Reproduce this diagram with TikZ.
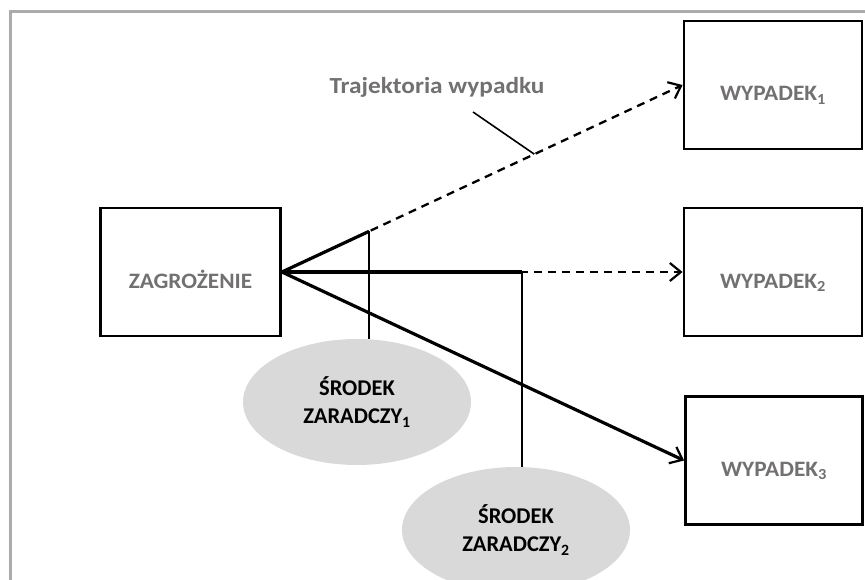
\documentclass[tikz,border=0pt]{standalone}
\usepackage{fontspec}
\setmainfont{Carlito}
\newfontfamily\widefont{Carlito}[FakeStretch=1.06]
\newfontfamily\labelfont{Carlito}[FakeStretch=1.1]
\usetikzlibrary{arrows.meta,shapes.geometric,calc}
\definecolor{txtgray}{HTML}{727070}
\definecolor{ellgray}{HTML}{D9D9D9}
\definecolor{framegray}{HTML}{ABABAB}
\begin{document}
\begin{tikzpicture}[x=1pt,y=-1pt,
  box/.style={draw,line width=2.8pt,inner sep=0pt,minimum width=180pt,minimum height=128pt,
    text height=32pt,text depth=0pt,
    font=\widefont\fontsize{22}{26}\selectfont\bfseries,text=txtgray},
  ell/.style={ellipse,fill=ellgray,inner sep=0pt,minimum width=228pt,minimum height=126pt,
    align=center,font=\fontsize{22.5}{28}\selectfont\bfseries,text=black},
  thick line/.style={line width=3.2pt},
  dash line/.style={line width=2.3pt,dash pattern=on 8pt off 6pt},
  thin line/.style={line width=1.6pt},
  barb/.style={-{Straight Barb[length=11pt,width=18pt,line width=2.2pt]}},
  label text/.style={font=\labelfont\fontsize{23}{27}\selectfont\bfseries,text=txtgray}]
\useasboundingbox (0,0) rectangle (865,580);
\draw[framegray,line width=3pt] (10,582) -- (10,11.5) -- (867,11.5);

\node[box] (z) at (190.5,272) {ZAGROŻENIE};
\node[box,minimum width=178pt] (w1) at (773,85) {WYPADEK\textsubscript{1}};
\node[box,minimum width=178pt] (w2) at (773,272) {WYPADEK\textsubscript{2}};
\node[box,minimum width=177pt] (w3) at (774,460.5) {WYPADEK\textsubscript{3}};

\coordinate (o) at (z.east);
\coordinate (c1) at ($(z.east)!0.2175!(w1.west)$);
\coordinate (c2) at (522,272);

% ellipses
\node[ell] (e1) at (357,402) {ŚRODEK\\ZARADCZY\textsubscript{1}};
\node[ell] (e2) at (516,530) {ŚRODEK\\ZARADCZY\textsubscript{2}};

% trajectories
\draw[dash line,barb] (o) -- (w1.west);
\draw[thick line] (o) -- (c1);
\draw[dash line,barb] (o) -- (w2.west);
\draw[thick line] (o) -- (c2);
\draw[thick line,barb] (o) -- (w3.west);

% barriers
\draw[thin line] (c1) -- (c1 |- e1.north);
\draw[thin line] (c2) -- (c2 |- e2.north);

% label
\node[label text] (lbl) at (437,87) {Trajektoria wypadku};
\coordinate (p) at ($(o)!0.63!(w1.west)$);
\draw[thin line] (473,112) -- (p);
\end{tikzpicture}
\end{document}
